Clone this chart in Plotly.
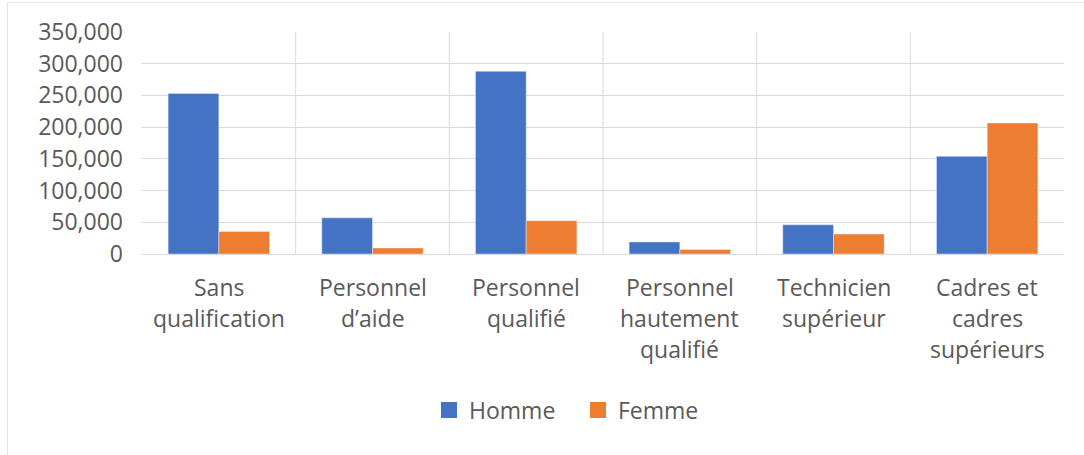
import plotly.graph_objects as go

categories = ["Sans qualification", "Personnel d'aide", "Personnel qualifié",
              "Personnel hautement qualifié", "Technicien supérieur",
              "Cadres et cadres supérieurs"]
label_lines = [["Sans", "qualification"], ["Personnel", "d’aide"], ["Personnel", "qualifié"],
               ["Personnel", "hautement", "qualifié"], ["Technicien", "supérieur"],
               ["Cadres et", "cadres", "supérieurs"]]
series_names = ["Homme", "Femme"]
series_colors = ["#4472C4", "#ED7D31"]
homme = [253000, 57000, 288000, 19000, 46000, 154000]
femme = [35500, 9500, 52500, 7000, 31500, 206500]
y_ticks = [0, 50000, 100000, 150000, 200000, 250000, 300000, 350000]

FONT = "Open Sans"
TXT = "#595959"
GRID = "#D9D9D9"
BORDER = "#E3E3E3"
FS = 23

fig = go.Figure()
for name, vals, col in zip(series_names, [homme, femme], series_colors):
    fig.add_trace(go.Bar(name=name, x=categories, y=vals, marker_color=col,
                         legendgroup=name, showlegend=False))
# legend proxies (larger square swatches like Excel)
for name, col in zip(series_names, series_colors):
    fig.add_trace(go.Scatter(name=name, x=[None], y=[None], mode="markers",
                             marker=dict(symbol="square", size=16, color=col),
                             legendgroup=name, showlegend=True, hoverinfo="skip"))

W, H = 1084, 455
# plot area: left 142, right 1064, top 32, bottom 254.5
L, T = 142, 32
R = W - 1064
B = H - 254.5
pw, ph = W - L - R, H - T - B


def py(page_y):
    return (254.5 - page_y) / ph


def px(page_x):
    return (page_x - 142) / pw


annotations = []
for cat, lines in zip(categories, label_lines):
    for i, line in enumerate(lines):
        annotations.append(dict(x=cat, y=0, xref="x", yref="y", text=line, showarrow=False,
                                yanchor="middle", xanchor="center", yshift=-(33 + 31 * i),
                                font=dict(family=FONT, size=FS, color=TXT)))

shapes = []
for i in range(len(categories) - 1):
    shapes.append(dict(type="line", xref="x", yref="paper", x0=i + 0.5, x1=i + 0.5, y0=0, y1=1,
                       line=dict(color=GRID, width=1), layer="below"))
shapes.append(dict(type="line", xref="paper", yref="paper", x0=px(7.5), x1=px(1090),
                   y0=py(2.5), y1=py(2.5), line=dict(color=BORDER, width=1), layer="below"))
shapes.append(dict(type="line", xref="paper", yref="paper", x0=px(7.5), x1=px(7.5),
                   y0=py(2.5), y1=py(460), line=dict(color=BORDER, width=1), layer="below"))

fig.update_layout(
    width=W, height=H,
    margin=dict(l=L, r=R, t=T, b=B, pad=0),
    paper_bgcolor="white", plot_bgcolor="white",
    barmode="group", bargap=0.34, bargroupgap=0,
    font=dict(family=FONT, size=FS, color=TXT),
    showlegend=True,
    legend=dict(orientation="h", x=px(429), xanchor="left", y=py(411), yanchor="middle",
                font=dict(family=FONT, size=FS, color=TXT), traceorder="normal",
                itemsizing="trace", itemwidth=30, entrywidth=104),
    annotations=annotations,
    shapes=shapes,
    xaxis=dict(showticklabels=False, showgrid=False, zeroline=False, showline=False, ticks="",
               range=[-0.5, len(categories) - 0.5]),
    yaxis=dict(range=[0, 350000], tickvals=y_ticks, tickformat=",", showgrid=True, gridcolor=GRID,
               gridwidth=1, zeroline=True, zerolinecolor=GRID, zerolinewidth=1, showline=False,
               ticks="", ticklabelstandoff=18,
               tickfont=dict(family=FONT, size=FS, color=TXT)),
)

fig.write_html("out.html", config={"displayModeBar": False},
               post_script="document.body.style.margin='0';document.body.style.overflow='hidden';")
